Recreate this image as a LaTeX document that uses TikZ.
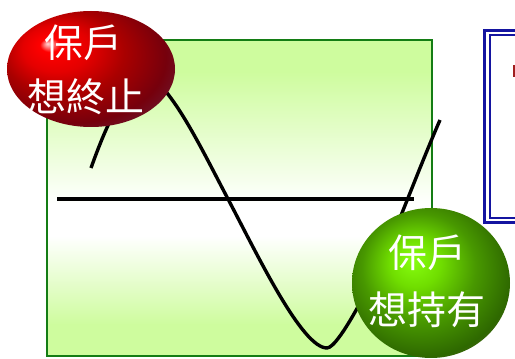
\documentclass[tikz,border=0pt]{standalone}
\usepackage{fontspec}
\newfontfamily\cjk{Noto Sans CJK TC}
\usetikzlibrary{shapes.geometric}
\definecolor{rA}{RGB}{255,215,215}
\definecolor{rB}{RGB}{255,0,0}
\definecolor{rC}{RGB}{228,0,0}
\definecolor{rD}{RGB}{170,0,0}
\definecolor{rE}{RGB}{118,0,12}
\definecolor{rF}{RGB}{100,40,72}
\definecolor{rG}{RGB}{112,82,112}
\definecolor{gA}{RGB}{135,255,15}
\definecolor{gB}{RGB}{112,222,0}
\definecolor{gC}{RGB}{72,152,0}
\definecolor{gD}{RGB}{46,104,0}
\definecolor{gE}{RGB}{108,94,60}
\definecolor{paleg}{RGB}{206,252,158}
\definecolor{frameg}{RGB}{20,125,20}
\definecolor{navy}{RGB}{20,20,160}
\definecolor{markred}{RGB}{160,30,30}
\pgfdeclareradialshading{redball}{\pgfqpoint{-13bp}{11bp}}{color(0bp)=(rA); color(3bp)=(rB); color(10bp)=(rC); color(18bp)=(rD); color(28bp)=(rE); color(38bp)=(rF); color(46bp)=(rG); color(50bp)=(rG)}
\pgfdeclareradialshading{greenball}{\pgfqpoint{-6bp}{8bp}}{color(0bp)=(gA); color(8bp)=(gB); color(18bp)=(gC); color(28bp)=(gD); color(36bp)=(gE); color(50bp)=(gE)}
\pgfdeclareverticalshading{panel}{100bp}{color(0bp)=(paleg); color(25bp)=(paleg); color(30bp)=(paleg); color(44bp)=(white); color(49bp)=(white); color(70bp)=(paleg); color(75bp)=(paleg); color(100bp)=(paleg)}
\tikzset{
  balltext/.style={text=white, font=\cjk\fontsize{39}{39}\selectfont, inner sep=0pt, anchor=center},
  thickline/.style={line width=3.4pt, black},
  boxline/.style={draw=navy}
}
\begin{document}
\begin{tikzpicture}[x=1pt,y=1pt]
\useasboundingbox (0,0) rectangle (515,359);
\clip (0,0) rectangle (515,359);
% green panel
\shade[shading=panel] (47,319) rectangle (432,3);
\draw[frameg, line width=2pt] (47,319) rectangle (432,3);
% axis
\coordinate (axl) at (57,160);
\coordinate (axr) at (414,160);
\draw[thickline] (axl) -- (axr);
% wave
\coordinate (w0) at (91,191);
\coordinate (w1) at (167,266);
\coordinate (w2) at (228,160);
\coordinate (w3) at (327,11);
\coordinate (w4) at (402,146);
\coordinate (w5) at (440,239);
\draw[thickline] (w0) .. controls (111,247) and (137,303.5) .. (w1)
  .. controls (187,241) and (208,198) .. (w2)
  .. controls (258,103) and (302,11) .. (w3)
  .. controls (339,11) and (377,84) .. (w4)
  .. controls (413,173.5) and (429,214) .. (w5);
% blue framed box
\draw[boxline, line width=3pt] (484.5,328) rectangle (530,136.5);
\draw[boxline, line width=2pt] (489.5,323.5) rectangle (530,141);
\fill[markred] (513,282) rectangle (516,294);
% red ball
\node[ellipse, minimum width=168pt, minimum height=116pt, inner sep=0pt, shading=redball] (stop) at (91,290) {};
\node[balltext] (stop1) at (84,316) {保戶};
\node[balltext] (stop2) at (86,262) {想終止};
% green ball
\node[ellipse, minimum width=158pt, minimum height=150pt, inner sep=0pt, shading=greenball] (hold) at (431,76) {};
\node[balltext] (hold1) at (427,106) {保戶};
\node[balltext] (hold2) at (427,49) {想持有};
\end{tikzpicture}
\end{document}
